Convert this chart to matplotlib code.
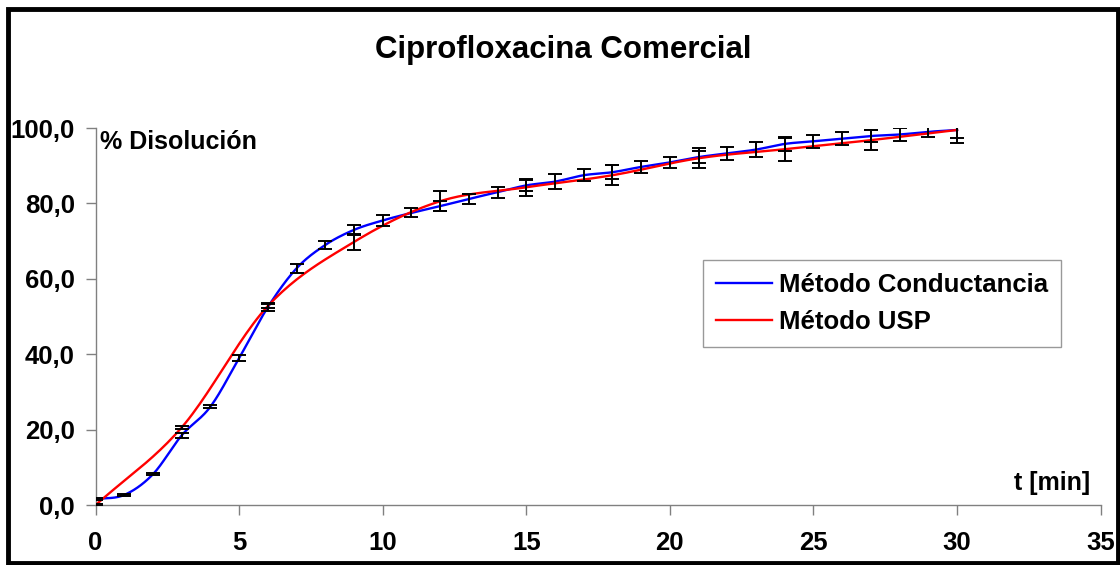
import numpy as np
import matplotlib.pyplot as plt
from matplotlib.patches import Rectangle

plt.rcParams['font.family'] = ['Liberation Sans', 'DejaVu Sans']
plt.rcParams['font.weight'] = 'bold'

# Conductance method: sampled every minute
t_cond = np.arange(0, 31)
conductancia = [1.6, 2.7, 8.2, 18.5, 26.1, 39.0, 52.5, 62.8, 69.0, 73.0, 75.5,
                77.5, 79.3, 81.2, 83.0, 84.8, 85.8, 87.5, 88.3, 89.7, 90.9,
                92.3, 93.3, 94.3, 95.8, 96.5, 97.2, 97.9, 98.3, 99.0, 99.5]
conductancia_sd = [0.2, 0.2, 0.3, 0.7, 0.4, 0.7, 1.0, 1.2, 1.1, 1.3, 1.4,
                   1.2, 1.4, 1.3, 1.5, 1.5, 2.0, 1.6, 1.8, 1.7, 1.5,
                   1.6, 1.8, 1.9, 1.8, 1.7, 1.7, 1.5, 1.6, 1.4, 2.1]

# USP method: sampled every 3 minutes
t_usp = np.arange(0, 31, 3)
usp = [0.0, 20.6, 52.8, 69.8, 80.6, 84.3, 87.5, 92.0, 94.4, 96.8, 99.5]
usp_sd = [0.3, 0.5, 0.5, 2.2, 2.6, 2.3, 2.7, 2.6, 3.0, 2.7, 3.5]


def smooth_line(x, y, n=24):
    # Catmull-Rom style smoothing between the measured points (Excel "smoothed line")
    x = np.asarray(x, float)
    y = np.asarray(y, float)
    m = np.empty_like(y)
    m[1:-1] = (y[2:] - y[:-2]) / (x[2:] - x[:-2])
    m[0] = (y[1] - y[0]) / (x[1] - x[0])
    m[-1] = (y[-1] - y[-2]) / (x[-1] - x[-2])
    xs, ys = [], []
    for i in range(len(x) - 1):
        h = x[i + 1] - x[i]
        s = np.linspace(0, 1, n, endpoint=False)
        h00 = 2 * s**3 - 3 * s**2 + 1
        h10 = s**3 - 2 * s**2 + s
        h01 = -2 * s**3 + 3 * s**2
        h11 = s**3 - s**2
        xs.append(x[i] + s * h)
        ys.append(h00 * y[i] + h10 * h * m[i] + h01 * y[i + 1] + h11 * h * m[i + 1])
    xs.append([x[-1]])
    ys.append([y[-1]])
    return np.concatenate(xs), np.concatenate(ys)


fig = plt.figure(figsize=(11.2, 5.65), dpi=100)
ax = fig.add_axes([0.0853, 0.106, 0.8974, 0.6673])

xc, yc = smooth_line(t_cond, conductancia)
xu, yu = smooth_line(t_usp, usp)
ax.plot(xc, yc, color='#0000ff', lw=1.7, label='Método Conductancia', zorder=3)
ax.plot(xu, yu, color='#ff0000', lw=1.7, label='Método USP', zorder=3)
ax.errorbar(t_cond, conductancia, yerr=conductancia_sd, fmt='none', ecolor='black',
            elinewidth=1.4, capsize=5, capthick=1.4, zorder=4)
ax.errorbar(t_usp, usp, yerr=usp_sd, fmt='none', ecolor='black',
            elinewidth=1.4, capsize=5, capthick=1.4, zorder=4)

ax.set_xlim(0, 35)
ax.set_ylim(0, 100)
ax.set_xticks(np.arange(0, 36, 5))
ax.set_yticks(np.arange(0, 101, 20))
ax.set_yticklabels([f'{v:.1f}'.replace('.', ',') for v in range(0, 101, 20)])
ax.tick_params(axis='both', labelsize=18.5, colors='#808080', length=7, width=1)
ax.tick_params(axis='x', pad=12)
ax.tick_params(axis='y', pad=8)
for lab in ax.get_xticklabels() + ax.get_yticklabels():
    lab.set_color('black')
    lab.set_fontweight('bold')
for side in ['top', 'right']:
    ax.spines[side].set_visible(False)
for side in ['left', 'bottom']:
    ax.spines[side].set_color('#808080')
    ax.spines[side].set_linewidth(1)

ax.text(0.004, 0.963, '% Disolución', transform=ax.transAxes, fontsize=18,
        fontweight='bold', va='center', ha='left')
ax.text(0.9896, 0.058, 't [min]', transform=ax.transAxes, fontsize=18,
        fontweight='bold', va='center', ha='right')

leg = ax.legend(loc='upper left', bbox_to_anchor=(0.6045, 0.65), fontsize=18.5,
                frameon=True, fancybox=False, handlelength=2.2, handletextpad=0.27,
                borderpad=0.5, labelspacing=0.5, borderaxespad=0)
leg.get_frame().set_edgecolor('#808080')
leg.get_frame().set_linewidth(1)
for txt in leg.get_texts():
    txt.set_fontweight('bold')

fig.text(0.503, 0.912, 'Ciprofloxacina Comercial', fontsize=22.5,
         fontweight='bold', ha='center', va='center')

# black frame round the whole chart
fig.patches.append(Rectangle((0.0067, 0.0044), 0.9911, 0.9788, transform=fig.transFigure,
                             fill=False, edgecolor='black', linewidth=3.5))

fig.savefig('out.png', dpi=100)
